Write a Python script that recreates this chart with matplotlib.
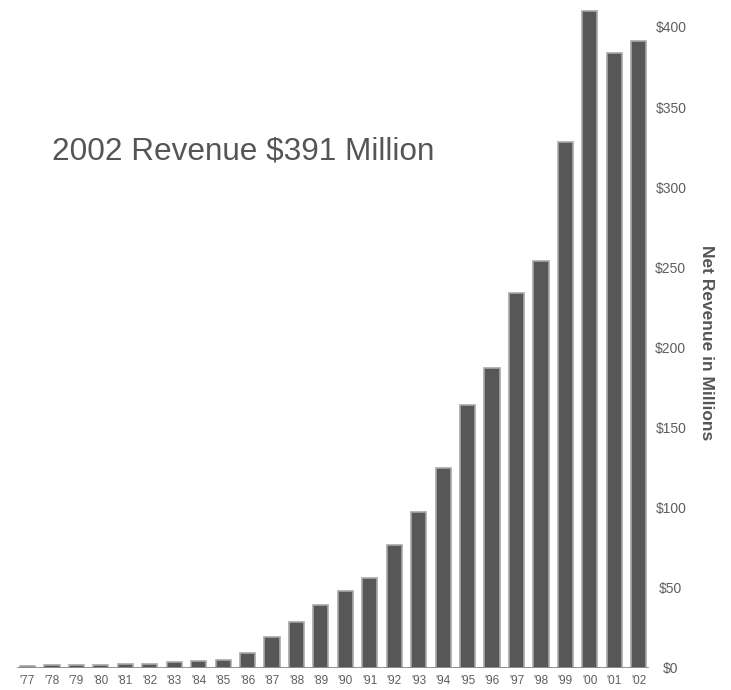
import matplotlib
matplotlib.use("Agg")
import matplotlib.pyplot as plt
from matplotlib import font_manager

# Net revenue by fiscal year, in millions of dollars
years = ["'77", "'78", "'79", "'80", "'81", "'82", "'83", "'84", "'85", "'86",
         "'87", "'88", "'89", "'90", "'91", "'92", "'93", "'94", "'95", "'96",
         "'97", "'98", "'99", "'00", "'01", "'02"]
revenue = [1.5, 1.6, 1.8, 2.0, 2.2, 2.8, 3.5, 4.2, 5.0, 9.5,
           19.5, 29, 39.5, 48, 56, 77, 97.5, 125, 164, 187,
           234, 254, 328, 410, 384, 391]
yticks = [0, 50, 100, 150, 200, 250, 300, 350, 400]
ytick_labels = ["$0", "$50", "$100", "$150", "$200", "$250", "$300", "$350", "$400"]

names = {f.name for f in font_manager.fontManager.ttflist}
narrow = "Liberation Sans Narrow" if "Liberation Sans Narrow" in names else "Liberation Sans"
fam = [narrow, "DejaVu Sans"]

W, H = 731, 690
fig = plt.figure(figsize=(W / 100, H / 100), dpi=100)
fig.patch.set_facecolor("white")

# axes spans from x=10px to 650px, baseline 22px above the bottom edge
ax = fig.add_axes([10 / W, 22 / H, 640 / W, 668 / H])
x = list(range(len(years)))
ax.bar(x, revenue, width=0.62, color="#575757", edgecolor="#a8a8a8",
       linewidth=1.2, zorder=2)
ax.axhline(0, xmin=8 / 640, xmax=637 / 640, color="#8a8a8a", linewidth=2.0,
           zorder=3)

ax.set_xlim(-0.716, 25.46)
ax.set_ylim(0, 416.8)

for s in ax.spines.values():
    s.set_visible(False)

ax.set_xticks(x)
ax.set_xticklabels(years, family=fam, fontsize=8.5, color="#5e5e5e")
ax.tick_params(axis="x", length=0, pad=5)

ax.yaxis.tick_right()
ax.set_yticks(yticks)
ax.set_yticklabels(ytick_labels, family=fam, fontsize=10, color="#5e5e5e",
                   ha="center")
ax.tick_params(axis="y", length=0, pad=15)

fig.text(706 / W, 1 - 343 / H, "Net Revenue in Millions", rotation=270,
         ha="center", va="center", family=fam, fontsize=12.5,
         fontweight="bold", color="#555555")

fig.text(52 / W, 1 - 152 / H, "2002 Revenue $391 Million", ha="left",
         va="center", family=fam, fontsize=22.7, color="#555555")

fig.savefig("out.png", dpi=100, facecolor="white")
